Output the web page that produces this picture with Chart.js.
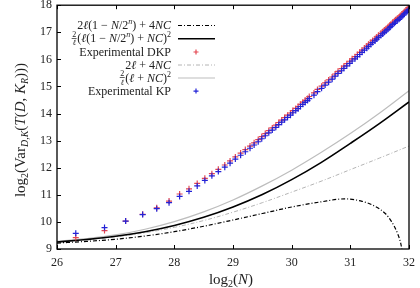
<!DOCTYPE html>
<html><head><meta charset="utf-8">
<script src="https://cdn.jsdelivr.net/npm/chart.js@4.4.0/dist/chart.umd.min.js"></script>
<style>html,body{margin:0;padding:0;background:#fff}</style>
</head><body>
<canvas id="c" width="420" height="288"></canvas>
<script>
// ---- data ----
const xTicks = [26, 27, 28, 29, 30, 31, 32];
const yTicks = [9, 10, 11, 12, 13, 14, 15, 16, 17, 18];

// theoretical curves, x = log2(N)
const curveX = [26, 26.5, 27, 27.5, 28, 28.5, 29, 29.5, 30, 30.5, 31, 31.5, 32];
const boundLight = [9.28, 9.38, 9.52, 9.73, 10.01, 10.37, 10.81, 11.33, 11.91, 12.56, 13.26, 14.02, 14.84];   // 2/l (l+NC)^2
const boundBlack = [9.26, 9.35, 9.47, 9.64, 9.87, 10.17, 10.55, 11.01, 11.56, 12.19, 12.90, 13.64, 14.43];   // 2/l (l(1-N/2^n)+NC)^2
const linLight   = [9.26, 9.34, 9.45, 9.60, 9.80, 10.05, 10.36, 10.71, 11.10, 11.50, 11.93, 12.36, 12.80];   // 2l + 4NC
const linBlackX  = [26, 26.5, 27, 27.5, 28, 28.5, 29, 29.5, 30, 30.5, 30.9, 31.2, 31.4, 31.6, 31.7, 31.8, 31.86, 31.9];
const linBlack   = [9.22, 9.28, 9.36, 9.48, 9.64, 9.84, 10.07, 10.31, 10.55, 10.74, 10.85, 10.76, 10.6, 10.3, 10.02, 9.6, 9.2, 8.7]; // 2l(1-N/2^n)+4NC

// experimental points, x = log2(N)
const expX = [26.32, 26.81, 27.17, 27.46, 27.70, 27.91, 28.09, 28.25, 28.39, 28.52, 28.64, 28.75, 28.86, 28.95,
  29.04, 29.13, 29.21, 29.29, 29.36, 29.43, 29.49, 29.55, 29.61, 29.67, 29.73, 29.78, 29.83, 29.88, 29.93, 29.98,
  30.02, 30.07, 30.11, 30.15, 30.19, 30.23, 30.27, 30.30, 30.38, 30.44, 30.51, 30.57, 30.63, 30.69, 30.74, 30.79,
  30.85, 30.89, 30.94, 30.99, 31.03, 31.08, 31.12, 31.16, 31.20, 31.24, 31.28, 31.31, 31.35, 31.38, 31.42, 31.45,
  31.48, 31.52, 31.55, 31.58, 31.61, 31.64, 31.67, 31.69, 31.72, 31.75, 31.77, 31.80, 31.83, 31.85, 31.88, 31.90,
  31.92, 31.95, 31.97, 31.99];
const expKP = [9.58, 9.79, 10.03, 10.27, 10.49, 10.71, 10.94, 11.13, 11.33, 11.53, 11.70, 11.86, 12.02, 12.17,
  12.32, 12.46, 12.59, 12.72, 12.84, 12.96, 13.07, 13.18, 13.29, 13.39, 13.49, 13.59, 13.68, 13.77, 13.86, 13.94,
  14.03, 14.11, 14.18, 14.26, 14.34, 14.41, 14.48, 14.55, 14.68, 14.81, 14.93, 15.05, 15.16, 15.27, 15.38, 15.48,
  15.58, 15.67, 15.76, 15.85, 15.94, 16.02, 16.10, 16.18, 16.26, 16.34, 16.41, 16.48, 16.55, 16.62, 16.68, 16.75,
  16.81, 16.88, 16.94, 17.00, 17.05, 17.11, 17.17, 17.22, 17.28, 17.33, 17.38, 17.43, 17.48, 17.53, 17.58, 17.63,
  17.68, 17.73, 17.78, 17.83];
const expDKP = [9.42, 9.68, 10.03, 10.28, 10.52, 10.77, 11.03, 11.22, 11.42, 11.61, 11.78, 11.94, 12.10, 12.25,
  12.40, 12.54, 12.67, 12.80, 12.92, 13.04, 13.15, 13.26, 13.37, 13.47, 13.57, 13.67, 13.76, 13.85, 13.94, 14.02,
  14.11, 14.19, 14.26, 14.34, 14.42, 14.49, 14.56, 14.63, 14.76, 14.89, 15.01, 15.13, 15.24, 15.35, 15.46, 15.56,
  15.66, 15.75, 15.84, 15.93, 16.02, 16.10, 16.18, 16.26, 16.34, 16.42, 16.49, 16.56, 16.63, 16.70, 16.76, 16.83,
  16.89, 16.96, 17.02, 17.08, 17.13, 17.19, 17.25, 17.30, 17.36, 17.41, 17.46, 17.51, 17.56, 17.61, 17.66, 17.71,
  17.76, 17.81, 17.86, 17.91];

const pts = (xs, ys) => xs.map((x, i) => ({x: x, y: ys[i]}));

const SERIF = "'Liberation Serif','DejaVu Serif',serif";
const RED = 'rgb(228,70,80)';
const BLUE = 'rgb(35,35,215)';
const DASHDOT = [4, 2, 1, 2];

// rich text helper
function segWidth(ctx, s) {
  if (s.frac) {
    ctx.font = (s.sz || 8) + 'px ' + SERIF;
    return Math.max(ctx.measureText(s.frac[0]).width, ctx.measureText(s.frac[1]).width) + 2;
  }
  ctx.font = (s.it ? 'italic ' : '') + (s.sz || 12) + 'px ' + SERIF;
  return ctx.measureText(s.t).width;
}
function drawRich(ctx, segs, x, y, align) {
  let total = 0;
  segs.forEach(s => total += segWidth(ctx, s));
  let cx = align === 'right' ? x - total : align === 'center' ? x - total / 2 : x;
  ctx.textBaseline = 'alphabetic';
  ctx.textAlign = 'left';
  segs.forEach(s => {
    const w = segWidth(ctx, s);
    if (s.frac) {
      const sz = s.sz || 8;
      ctx.font = sz + 'px ' + SERIF;
      ctx.fillText(s.frac[0], cx + (w - ctx.measureText(s.frac[0]).width) / 2, y - 5.5);
      ctx.font = 'italic ' + sz + 'px ' + SERIF;
      ctx.fillText(s.frac[1], cx + (w - ctx.measureText(s.frac[1]).width) / 2, y + 3);
      ctx.fillRect(cx + 0.5, y - 4.2, w - 1, 0.7);
    } else {
      ctx.font = (s.it ? 'italic ' : '') + (s.sz || 12) + 'px ' + SERIF;
      ctx.fillText(s.t, cx, y + (s.dy || 0));
    }
    cx += w;
  });
}

const legendItems = [
  {segs: [{t:'2'},{t:'ℓ',it:1},{t:'(1 − '},{t:'N',it:1},{t:'/2'},{t:'n',it:1,sz:8,dy:-5},{t:') + 4'},{t:'NC',it:1}],
   kind: 'line', color: '#000', width: 1.2, dash: DASHDOT},
  {segs: [{frac:['2','ℓ']},{t:'('},{t:'ℓ',it:1},{t:'(1 − '},{t:'N',it:1},{t:'/2'},{t:'n',it:1,sz:8,dy:-5},{t:') + '},{t:'NC',it:1},{t:')'},{t:'2',sz:8,dy:-5}],
   kind: 'line', color: '#000', width: 1.6, dash: []},
  {segs: [{t:'Experimental DKP'}], kind: 'pt', color: RED},
  {segs: [{t:'2'},{t:'ℓ',it:1},{t:' + 4'},{t:'NC',it:1}], kind: 'line', color: '#b4b4b4', width: 1, dash: DASHDOT},
  {segs: [{frac:['2','ℓ']},{t:'('},{t:'ℓ',it:1},{t:' + '},{t:'NC',it:1},{t:')'},{t:'2',sz:8,dy:-5}],
   kind: 'line', color: '#bdbdbd', width: 1.2, dash: []},
  {segs: [{t:'Experimental KP'}], kind: 'pt', color: BLUE}
];
const legendY = [25, 38.2, 51.5, 64.5, 77.5, 90.6];

const decor = {
  id: 'decor',
  afterDraw(chart) {
    const ctx = chart.ctx, a = chart.chartArea;
    const xs = chart.scales.x, ys = chart.scales.y;
    ctx.save();
    // frame
    ctx.strokeStyle = '#000'; ctx.lineWidth = 1.3; ctx.setLineDash([]);
    ctx.strokeRect(a.left, a.top, a.right - a.left, a.bottom - a.top);
    // inward ticks
    ctx.lineWidth = 1;
    ctx.beginPath();
    xTicks.forEach(v => {
      const px = Math.round(xs.getPixelForValue(v)) + 0.5;
      ctx.moveTo(px, a.bottom); ctx.lineTo(px, a.bottom - 4);
      ctx.moveTo(px, a.top); ctx.lineTo(px, a.top + 4);
    });
    yTicks.forEach(v => {
      const py = Math.round(ys.getPixelForValue(v)) + 0.5;
      ctx.moveTo(a.left, py); ctx.lineTo(a.left + 4, py);
    });
    ctx.stroke();
    // legend
    legendItems.forEach((it, i) => {
      const y = legendY[i];
      ctx.fillStyle = '#222';
      drawRich(ctx, it.segs, 171, y + 4, 'right');
      if (it.kind === 'line') {
        ctx.strokeStyle = it.color; ctx.lineWidth = it.width; ctx.setLineDash(it.dash);
        ctx.beginPath(); ctx.moveTo(178, y + 0.5); ctx.lineTo(215, y + 0.5); ctx.stroke();
        ctx.setLineDash([]);
      } else {
        ctx.strokeStyle = it.color; ctx.lineWidth = 1.2;
        ctx.beginPath(); ctx.moveTo(193.5, y + 0.5); ctx.lineTo(198.5, y + 0.5);
        ctx.moveTo(196, y - 2); ctx.lineTo(196, y + 3); ctx.stroke();
      }
    });
    // axis titles
    ctx.fillStyle = '#222';
    drawRich(ctx, [{t:'log'},{t:'2',sz:10,dy:3},{t:'('},{t:'N',it:1},{t:')'}].map(s => Object.assign({sz:15}, s)), 231, 284, 'center');
    ctx.translate(25, 130);
    ctx.rotate(-Math.PI / 2);
    drawRich(ctx, [{t:'log'},{t:'2',sz:10,dy:3},{t:'(Var'},{t:'D,K',it:1,sz:10,dy:3},{t:'('},{t:'T',it:1},{t:'('},{t:'D',it:1},{t:', '},{t:'K',it:1},{t:'R',it:1,sz:10,dy:3},{t:')))'}].map(s => Object.assign({sz:15}, s)), 0, 0, 'center');
    ctx.restore();
  }
};

new Chart(document.getElementById('c'), {
  type: 'scatter',
  data: {
    datasets: [
      {label: 'Experimental KP', data: pts(expX, expKP), pointStyle: 'cross', pointRadius: 3,
       borderColor: BLUE, backgroundColor: BLUE, pointBorderWidth: 1.2, showLine: false},
      {label: 'Experimental DKP', data: pts(expX, expDKP), pointStyle: 'cross', pointRadius: 3,
       borderColor: RED, backgroundColor: RED, pointBorderWidth: 1.2, showLine: false},
      {label: '2/l(l(1-N/2^n)+NC)^2', data: pts(curveX, boundBlack), showLine: true, pointRadius: 0,
       borderColor: '#000', borderWidth: 1.6, tension: 0.4},
      {label: '2l(1-N/2^n)+4NC', data: pts(linBlackX, linBlack), showLine: true, pointRadius: 0,
       borderColor: '#000', borderWidth: 1.2, borderDash: DASHDOT, cubicInterpolationMode: 'monotone'},
      {label: '2/l(l+NC)^2', data: pts(curveX, boundLight), showLine: true, pointRadius: 0,
       borderColor: '#bdbdbd', borderWidth: 1.2, tension: 0.4},
      {label: '2l+4NC', data: pts(curveX, linLight), showLine: true, pointRadius: 0,
       borderColor: '#b4b4b4', borderWidth: 1, borderDash: DASHDOT, tension: 0.4}
    ]
  },
  options: {
    responsive: false,
    animation: false,
    devicePixelRatio: 1,
    layout: {padding: {top: 5, right: 11, left: 0, bottom: 0}},
    plugins: {legend: {display: false}, tooltip: {enabled: false}},
    scales: {
      x: {
        type: 'linear', min: 26, max: 32,
        afterBuildTicks: s => { s.ticks = xTicks.map(v => ({value: v})); },
        afterFit: s => { s.height = 39; s.paddingLeft = 0; s.paddingRight = 0; },
        grid: {display: false, drawTicks: false},
        border: {display: false},
        ticks: {padding: 7, color: '#222', maxRotation: 0, font: {family: SERIF, size: 12}}
      },
      y: {
        type: 'linear', min: 9, max: 18,
        afterBuildTicks: s => { s.ticks = yTicks.map(v => ({value: v})); },
        afterFit: s => { s.width = 57; s.paddingTop = 0; s.paddingBottom = 0; },
        grid: {display: false, drawTicks: false},
        border: {display: false},
        ticks: {padding: 5, color: '#222', font: {family: SERIF, size: 12}}
      }
    }
  },
  plugins: [decor]
});
</script>
</body></html>
